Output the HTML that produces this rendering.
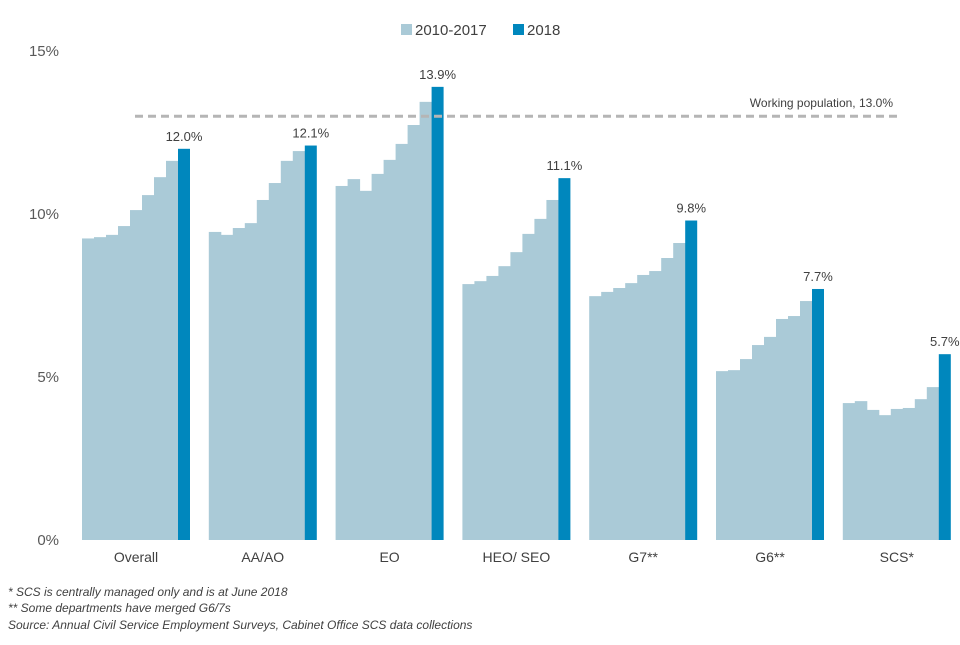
<!DOCTYPE html>
<html><head><meta charset="utf-8"><style>
body{margin:0;background:#fff;font-family:"Liberation Sans",sans-serif}
svg text{font-family:"Liberation Sans",sans-serif}
</style></head><body>
<svg id="chart" width="960" height="640">
<g id="legend">
<rect x="401" y="24" width="11" height="11" fill="#aacad7"/>
<text x="415" y="35" font-size="15" fill="#404040">2010-2017</text>
<rect x="513" y="24" width="11" height="11" fill="#0087bd"/>
<text x="527" y="35" font-size="15" fill="#404040">2018</text>
</g>
<g id="yaxis"></g>
<g id="bars"></g>
<g id="ref"></g>
<g id="xaxis"></g>
<g font-size="12" font-style="italic" fill="#404040">
<text x="8" y="596">* SCS is centrally managed only and is at June 2018</text>
<text x="8" y="612">** Some departments have merged G6/7s</text>
<text x="8" y="629">Source: Annual Civil Service Employment Surveys, Cabinet Office SCS data collections</text>
</g>
</svg>
<script>
const categories=["Overall","AA/AO","EO","HEO/ SEO","G7**","G6**","SCS*"];
const history2010_2017=[
[9.25,9.29,9.36,9.63,10.12,10.58,11.13,11.63],
[9.45,9.36,9.57,9.72,10.43,10.95,11.63,11.93],
[10.86,11.07,10.71,11.23,11.66,12.15,12.73,13.44],
[7.85,7.94,8.10,8.40,8.83,9.39,9.85,10.43],
[7.48,7.61,7.73,7.88,8.13,8.25,8.65,9.11],
[5.18,5.21,5.55,5.98,6.23,6.78,6.87,7.33],
[4.20,4.26,3.99,3.83,4.02,4.05,4.32,4.69]];
const values2018=[12.0,12.1,13.9,11.1,9.8,7.7,5.7];
const yTicks=[0,5,10,15];
const workingPopulation=13.0;

const NS="http://www.w3.org/2000/svg";
const y0=540,pxPer=32.6;
const y=v=>y0-v*pxPer;
const groupX=i=>82+i*126.8;
const bw=12;
function mk(tag,attrs,parent){const e=document.createElementNS(NS,tag);for(const k in attrs)e.setAttribute(k,attrs[k]);parent.appendChild(e);return e;}
const ya=document.getElementById('yaxis'),bars=document.getElementById('bars'),xa=document.getElementById('xaxis'),ref=document.getElementById('ref');
yTicks.forEach(t=>{const e=mk('text',{x:59,y:y(t)+5,'font-size':15,fill:'#595959','text-anchor':'end'},ya);e.textContent=t+'%';

});
categories.forEach((c,i)=>{
 const gx=groupX(i);
 history2010_2017[i].forEach((v,j)=>{const r=mk('rect',{x:gx+j*bw,y:y(v),width:bw+0.5,height:y0-y(v),fill:'#aacad7'},bars);
 
 });
 const dx=gx+8*bw;
 const r=mk('rect',{x:dx,y:y(values2018[i]),width:bw,height:y0-y(values2018[i]),fill:'#0087bd'},bars);
 
 
 const l=mk('text',{x:dx+bw/2,y:y(values2018[i])-8,'font-size':13,fill:'#404040','text-anchor':'middle'},bars);
 l.textContent=values2018[i].toFixed(1)+'%';
 
 
 const xl=mk('text',{x:gx+54,y:562,'font-size':14,fill:'#404040','text-anchor':'middle'},xa);
 xl.textContent=c;
 
 
});
const ln=mk('line',{x1:135,x2:897,y1:y(workingPopulation),y2:y(workingPopulation),stroke:'#b5b5b5','stroke-width':3,'stroke-dasharray':'8,5'},ref);


const rt=mk('text',{x:893,y:y(workingPopulation)-9,'font-size':12,fill:'#404040','text-anchor':'end'},ref);
rt.textContent='Working population, '+workingPopulation.toFixed(1)+'%';


</script>
</body></html>
